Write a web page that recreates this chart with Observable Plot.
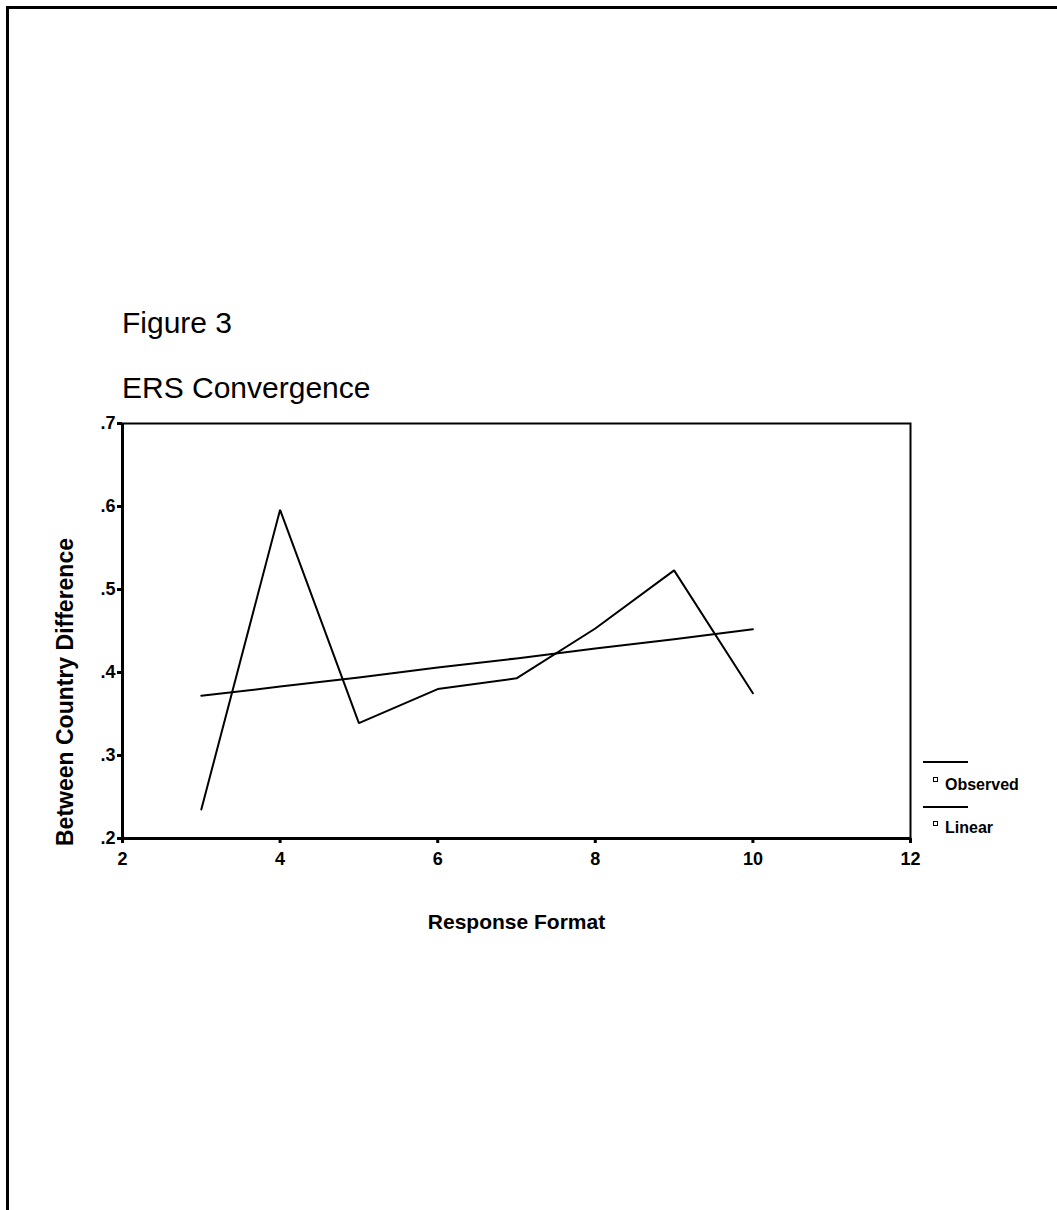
<!DOCTYPE html>
<html><head><meta charset="utf-8">
<script src="https://cdn.jsdelivr.net/npm/d3@7"></script>
<script src="https://cdn.jsdelivr.net/npm/@observablehq/plot@0.6"></script>
<style>
body{margin:0;background:#fff;}
#page{position:relative;width:1057px;height:1210px;overflow:hidden;font-family:"Liberation Sans",Arial,sans-serif;color:#000;background:#fff;}
.t{position:absolute;white-space:nowrap;line-height:1;}
.b{position:absolute;background:#000;}
.sq{position:absolute;width:5px;height:5px;border:1px solid #000;box-sizing:border-box;}
</style></head><body>
<div id="page">
  <div id="chart" style="position:absolute;left:0;top:0"></div>
  <div class="b" style="left:6px;top:6px;width:1051px;height:3px"></div>
  <div class="b" style="left:6px;top:6px;width:3px;height:1204px"></div>
  <div class="t" style="left:122px;top:308px;font-size:30px">Figure 3</div>
  <div class="t" style="left:122px;top:373px;font-size:30px">ERS Convergence</div>
  <div id="legend"></div>
</div>
<script>
const xValues = [3, 4, 5, 6, 7, 8, 9, 10];
const observed = [0.235, 0.596, 0.339, 0.380, 0.393, 0.453, 0.523, 0.375];
const linear = [0.372, 0.383, 0.394, 0.406, 0.417, 0.429, 0.440, 0.452];
const xTicks = [2, 4, 6, 8, 10, 12];
const yTicks = [0.2, 0.3, 0.4, 0.5, 0.6, 0.7];
const yTickLabels = [".2", ".3", ".4", ".5", ".6", ".7"];
const xDomain = [2, 12];
const yDomain = [0.2, 0.7];
const seriesNames = ["Observed", "Linear"];
const xLabel = "Response Format";
const yLabel = "Between Country Difference";

const obsData = xValues.map((x, i) => ({x, v: observed[i]}));
const linData = xValues.map((x, i) => ({x, v: linear[i]}));

const chart = Plot.plot({
  width: 1057, height: 1210,
  marginLeft: 122, marginTop: 423, marginRight: 147, marginBottom: 372,
  x: {domain: xDomain},
  y: {domain: yDomain},
  style: {fontFamily: '"Liberation Sans", Arial, sans-serif', background: "transparent", color: "#000"},
  marks: [
    Plot.axisX(xTicks, {tickSize: 5, tickPadding: 9, fontSize: 18, fontWeight: "bold", strokeWidth: 3, label: null, tickFormat: d => String(d)}),
    Plot.axisY(yTicks, {tickSize: 5, tickPadding: 2, fontSize: 18, fontWeight: "bold", strokeWidth: 3, label: null, tickFormat: d => yTickLabels[yTicks.indexOf(d)]}),
    Plot.frame({strokeWidth: 2, stroke: "#000"}),
    Plot.ruleX([xDomain[0]], {strokeWidth: 3, stroke: "#000"}),
    Plot.ruleY([yDomain[0]], {strokeWidth: 3, stroke: "#000"}),
    Plot.line(obsData, {x: "x", y: "v", stroke: "#000", strokeWidth: 2, strokeLinejoin: "miter"}),
    Plot.line(linData, {x: "x", y: "v", stroke: "#000", strokeWidth: 2}),
    Plot.text([xLabel], {frameAnchor: "bottom", dy: 90, lineAnchor: "bottom", fontSize: 21, fontWeight: "bold", fill: "#000"}),
    Plot.text([yLabel], {frameAnchor: "left", textAnchor: "middle", rotate: -90, dx: -57, dy: 61, fontSize: 23, fontWeight: "bold", fill: "#000"})
  ]
});
document.getElementById("chart").appendChild(chart);

const legend = document.getElementById("legend");
const lineTops = [761, 806];
const sqTops = [777, 821];
const textTops = [777, 820];
seriesNames.forEach((name, i) => {
  const l = document.createElement("div");
  l.className = "b";
  l.style.cssText = `left:923px;top:${lineTops[i]}px;width:45px;height:1.5px`;
  legend.appendChild(l);
  const s = document.createElement("div");
  s.className = "sq";
  s.style.cssText = `left:933px;top:${sqTops[i]}px`;
  legend.appendChild(s);
  const t = document.createElement("div");
  t.className = "t";
  t.style.cssText = `left:945px;top:${textTops[i]}px;font-size:16px;font-weight:bold`;
  t.textContent = name;
  legend.appendChild(t);
});
</script>
</body></html>
